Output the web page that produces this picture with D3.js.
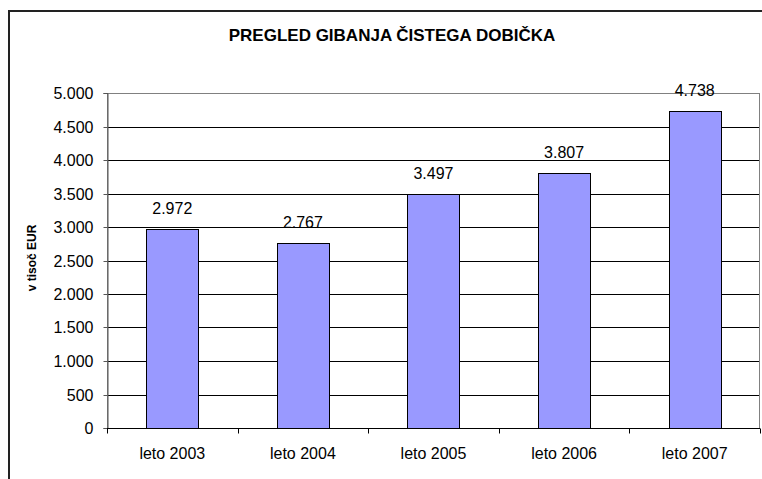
<!DOCTYPE html>
<html><head><meta charset="utf-8">
<script src="https://cdn.jsdelivr.net/npm/d3@7"></script>
<style>body{margin:0;background:#fff}svg{display:block}text{font-family:"Liberation Sans",Arial,sans-serif}</style>
</head><body>
<svg id="c" width="762" height="479"></svg>
<script>
const categories = ["leto 2003","leto 2004","leto 2005","leto 2006","leto 2007"];
const values = [2972, 2767, 3497, 3807, 4738];
const yTicks = [0,500,1000,1500,2000,2500,3000,3500,4000,4500,5000];
const title = "PREGLED GIBANJA ČISTEGA DOBIČKA";
const yTitle = "v tisoč EUR";

const svg = d3.select("#c");
const fmt = v => d3.format(",")(v).replace(/,/g, ".");
const L = 107, R = 760, T = 93, B = 428;

// outer frame
svg.append("rect").attr("x", 9).attr("y", 11).attr("width", 800).attr("height", 500)
  .attr("fill", "none").attr("stroke", "#222").attr("stroke-width", 2);

const x = d3.scaleBand().domain(categories).range([L, R]).paddingInner(0.6).paddingOuter(0.3);
const xb = d3.scaleBand().domain(categories).range([L, R]);
const y = d3.scaleLinear().domain([0, 5000]).range([B, T]);

// gridlines
svg.append("g").selectAll("line").data(yTicks.filter(d => d > 0 && d < 5000)).join("line")
  .attr("x1", L).attr("x2", R).attr("y1", d => Math.round(y(d)) + 0.5).attr("y2", d => Math.round(y(d)) + 0.5)
  .attr("stroke", "#000").attr("stroke-width", 1);

// plot border
svg.append("rect").attr("x", L + 0.5).attr("y", T + 0.5).attr("width", R - L - 1).attr("height", B - T)
  .attr("fill", "none").attr("stroke", "#808080").attr("stroke-width", 1);

// bars
svg.append("g").selectAll("rect").data(values).join("rect")
  .attr("x", (d, i) => Math.round(x(categories[i])) + 0.5)
  .attr("y", d => Math.round(y(d)) + 0.5)
  .attr("width", Math.round(x.bandwidth()))
  .attr("height", d => Math.round(B - y(d)))
  .attr("fill", "#9999FF").attr("stroke", "#000").attr("stroke-width", 1);

// value labels
svg.append("g").selectAll("text").data(values).join("text")
  .attr("x", (d, i) => x(categories[i]) + x.bandwidth() / 2)
  .attr("y", d => y(d) - 15)
  .attr("text-anchor", "middle").attr("font-size", 16).attr("fill", "#000")
  .text(d => fmt(d));

// y axis
const ya = svg.append("g").attr("transform", `translate(${L + 0.5},0)`)
  .call(d3.axisLeft(y).tickValues(yTicks).tickSize(4).tickPadding(10).tickFormat(fmt));
ya.select(".domain").attr("stroke", "#555");
ya.selectAll(".tick line").attr("stroke", "#555");
ya.selectAll(".tick").attr("transform", d => `translate(0,${Math.round(y(d)) + 0.5})`);
ya.selectAll("text").attr("font-size", 16).attr("font-family", "Liberation Sans, Arial, sans-serif").attr("fill", "#000");

// x axis
const xa = svg.append("g").attr("transform", `translate(0,${B + 0.5})`);
xa.append("line").attr("x1", L).attr("x2", R).attr("stroke", "#000");
xa.selectAll(".tk").data(d3.range(categories.length + 1)).join("line").attr("class", "tk")
  .attr("x1", i => Math.round(L + i * xb.bandwidth()) + 0.5).attr("x2", i => Math.round(L + i * xb.bandwidth()) + 0.5)
  .attr("y1", 0).attr("y2", 5).attr("stroke", "#000");
xa.selectAll("text").data(categories).join("text")
  .attr("x", d => xb(d) + xb.bandwidth() / 2).attr("y", 30)
  .attr("text-anchor", "middle").attr("font-size", 16).attr("fill", "#000").text(d => d);

// title
svg.append("text").attr("x", 392).attr("y", 41).attr("text-anchor", "middle")
  .attr("font-size", 17).attr("font-weight", "bold").attr("fill", "#000").text(title);

// y title
svg.append("text").attr("transform", "translate(36,258) rotate(-90)").attr("text-anchor", "middle")
  .attr("font-size", 12).attr("font-weight", "bold").attr("fill", "#000").text(yTitle);
</script>
</body></html>
